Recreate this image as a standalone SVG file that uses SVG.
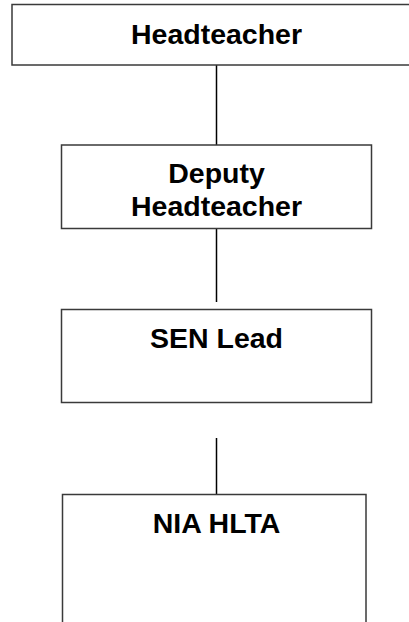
<svg xmlns="http://www.w3.org/2000/svg" width="409" height="622" viewBox="0 0 409 622">
<style>
.box{fill:#fff;stroke:#3a3a3a;stroke-width:1.5}
.lbl{font-family:"Liberation Sans",Arial,sans-serif;font-weight:bold;font-size:28.5px;fill:#000;text-anchor:middle}
.conn{stroke:#000;stroke-width:1.5;fill:none}
</style>
<rect width="409" height="622" fill="#fff"/>
<g id="connectors">
<line class="conn" x1="216.5" y1="65" x2="216.5" y2="145"/>
<line class="conn" x1="216.5" y1="228.5" x2="216.5" y2="302"/>
<line class="conn" x1="216.5" y1="438" x2="216.5" y2="494.5"/>
</g>
<g id="headteacher">
<rect class="box" x="12" y="4.5" width="410" height="60.5"/>
<text class="lbl" x="216.5" y="43.5">Headteacher</text>
</g>
<g id="deputy">
<rect class="box" x="61.5" y="145" width="310" height="83.5"/>
<text class="lbl" x="216.5" y="182.5">Deputy</text>
<text class="lbl" x="216.5" y="216">Headteacher</text>
</g>
<g id="sen">
<rect class="box" x="61.5" y="309.5" width="310" height="93"/>
<text class="lbl" x="216.5" y="348.3">SEN Lead</text>
</g>
<g id="nia">
<rect class="box" x="62.5" y="494.5" width="303.5" height="140"/>
<text class="lbl" x="216.5" y="532.7">NIA HLTA</text>
</g>
</svg>
